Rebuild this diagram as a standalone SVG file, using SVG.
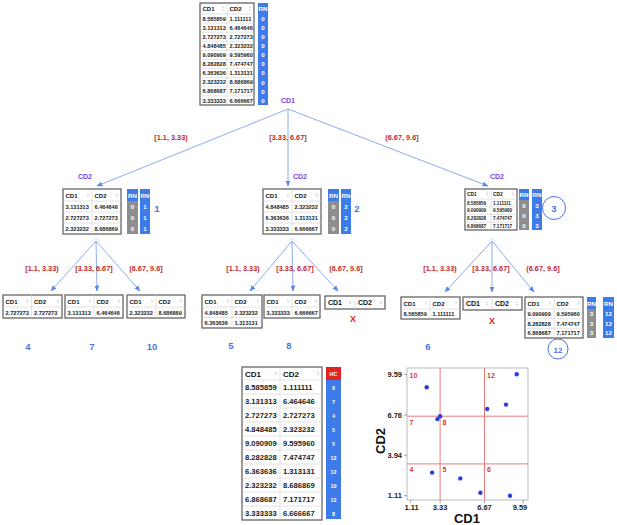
<svg xmlns="http://www.w3.org/2000/svg" width="617" height="525" viewBox="0 0 617 525">
<style>
text{font-family:"Liberation Sans",Arial,sans-serif}
.tb{fill:#fff;stroke:#666;stroke-width:1.3}
.cl{stroke:#d0d0d0;stroke-width:0.6}
.h{font-size:6px;font-weight:bold;fill:#111}
.v{font-size:5.6px;font-weight:bold;fill:#222}
.hs{font-size:4.8px;font-weight:bold;fill:#111}
.vs{font-size:4.6px;font-weight:bold;fill:#222}
.hl{font-size:7px;font-weight:bold;fill:#111}
.bh{font-size:8px;font-weight:bold;fill:#111}
.bv{font-size:7.6px;font-weight:bold;fill:#222}
.rb{fill:#3d7be8}
.rg{fill:#8e8e8e}
.rr{fill:#e02424}
.w{font-size:6.2px;font-weight:bold;fill:#fff;text-anchor:middle}
.ws{font-size:5.4px;font-weight:bold;fill:#fff;text-anchor:middle}
.cn{stroke:#7fa3ef;stroke-width:0.9;fill:none;marker-end:url(#ah)}
.el{font-size:7.3px;font-weight:bold;fill:#c0282d;text-anchor:middle}
.pl{font-size:7px;font-weight:bold;fill:#7a45e0;text-anchor:middle}
.bn{font-size:9.5px;font-weight:bold;fill:#4a74e6;text-anchor:middle}
.x{font-size:9px;font-weight:bold;fill:#e02020;text-anchor:middle}
.rl{stroke:#ec7a7a;stroke-width:1}
.rlab{font-size:7px;font-weight:bold;fill:#d63a3a}
.tk{font-size:7.5px;font-weight:bold;fill:#222}
.pt{fill:#2a3de6}
</style>
<defs>
<marker id="ah" markerUnits="userSpaceOnUse" markerWidth="6" markerHeight="6" refX="5.5" refY="3" orient="auto"><path d="M0,0.5 L6,3 L0,5.5 z" fill="#5b86ec"/></marker>
<path id="srt" d="M0,-0.6 l1,-1.4 l1,1.4z M0,0.6 l1,1.4 l1,-1.4z" fill="#c4c4c4"/>
</defs>

<g id="connectors">
<line class="cn" x1="288" y1="109" x2="97" y2="186"/>
<line class="cn" x1="288" y1="109" x2="288" y2="186"/>
<line class="cn" x1="288" y1="109" x2="488" y2="186"/>
<line class="cn" x1="96" y1="241" x2="51" y2="291"/>
<line class="cn" x1="96" y1="241" x2="97" y2="291"/>
<line class="cn" x1="96" y1="241" x2="140" y2="291"/>
<line class="cn" x1="292" y1="241" x2="250" y2="291"/>
<line class="cn" x1="292" y1="241" x2="293" y2="291"/>
<line class="cn" x1="292" y1="241" x2="338" y2="291"/>
<line class="cn" x1="492" y1="241" x2="445" y2="292"/>
<line class="cn" x1="492" y1="241" x2="492" y2="292"/>
<line class="cn" x1="492" y1="241" x2="534" y2="292"/>
<path d="M93,241 L96,238 L99,241 M289,241 L292,238 L295,241 M489,241 L492,238 L495,241" stroke="#c9d6f5" stroke-width="0.8" fill="none"/>
<text class="el" x="171" y="140">[1.1, 3.33)</text>
<text class="el" x="288" y="140">[3.33, 6.67]</text>
<text class="el" x="402" y="140">(6.67, 9.6]</text>
<text class="el" x="42" y="271">[1.1, 3.33)</text>
<text class="el" x="94" y="271">[3.33, 6.67]</text>
<text class="el" x="146" y="271">(6.67, 9.6]</text>
<text class="el" x="243" y="271">[1.1, 3.33)</text>
<text class="el" x="295" y="271">[3.33, 6.67]</text>
<text class="el" x="346" y="271">(6.67, 9.6]</text>
<text class="el" x="440" y="271">[1.1, 3.33)</text>
<text class="el" x="491" y="271">[3.33, 6.67]</text>
<text class="el" x="543" y="271">(6.67, 9.6]</text>
</g>

<g id="root">
<rect class="tb" x="200" y="3" width="54" height="102"/>
<path class="cl" d="M227,3V105 M200,14H254 M200,23.1H254 M200,32.2H254 M200,41.3H254 M200,50.4H254 M200,59.5H254 M200,68.6H254 M200,77.7H254 M200,86.8H254 M200,95.9H254"/>
<text class="h" x="202.5" y="11">CD1</text><text class="h" x="229.5" y="11">CD2</text>
<use href="#srt" x="222" y="8.5"/><use href="#srt" x="249" y="8.5"/>
<g class="v">
<text x="202.5" y="20.6">8.585859</text><text x="229.5" y="20.6">1.111111</text>
<text x="202.5" y="29.7">3.131313</text><text x="229.5" y="29.7">6.464646</text>
<text x="202.5" y="38.8">2.727273</text><text x="229.5" y="38.8">2.727273</text>
<text x="202.5" y="47.9">4.848485</text><text x="229.5" y="47.9">2.323232</text>
<text x="202.5" y="57">9.090909</text><text x="229.5" y="57">9.595960</text>
<text x="202.5" y="66.1">8.282828</text><text x="229.5" y="66.1">7.474747</text>
<text x="202.5" y="75.2">6.363636</text><text x="229.5" y="75.2">1.313131</text>
<text x="202.5" y="84.3">2.323232</text><text x="229.5" y="84.3">8.686869</text>
<text x="202.5" y="93.4">6.868687</text><text x="229.5" y="93.4">7.171717</text>
<text x="202.5" y="102.5">3.333333</text><text x="229.5" y="102.5">6.666667</text>
</g>
<rect class="rb" x="258" y="3" width="10" height="102"/>
<g class="w">
<text x="263" y="11">RN</text>
<text x="263" y="20.8">0</text><text x="263" y="29.9">0</text><text x="263" y="39">0</text><text x="263" y="48.1">0</text><text x="263" y="57.2">0</text><text x="263" y="66.3">0</text><text x="263" y="75.4">0</text><text x="263" y="84.5">0</text><text x="263" y="93.6">0</text><text x="263" y="102.7">0</text>
</g>
<text class="pl" x="288" y="103">CD1</text>
</g>

<g id="n1">
<text class="pl" x="85" y="179">CD2</text>
<rect class="tb" x="63" y="189" width="58" height="45"/>
<path class="cl" d="M92,189V234 M63,201H121 M63,212H121 M63,223H121"/>
<text class="h" x="65.5" y="197.5">CD1</text><text class="h" x="94.5" y="197.5">CD2</text>
<use href="#srt" x="87" y="195"/><use href="#srt" x="116" y="195"/>
<g class="v">
<text x="65.5" y="208.8">3.131313</text><text x="94.5" y="208.8">6.464646</text>
<text x="65.5" y="219.8">2.727273</text><text x="94.5" y="219.8">2.727273</text>
<text x="65.5" y="230.8">2.323232</text><text x="94.5" y="230.8">8.686869</text>
</g>
<rect class="rg" x="127" y="189" width="11" height="45"/><rect class="rb" x="127" y="189" width="11" height="12"/>
<rect class="rb" x="140" y="189" width="10" height="45"/>
<g class="w">
<text x="132.5" y="197.5">RN</text><text x="132.5" y="209">0</text><text x="132.5" y="220">0</text><text x="132.5" y="231">0</text>
<text x="145" y="197.5">RN</text><text x="145" y="209">1</text><text x="145" y="220">1</text><text x="145" y="231">1</text>
</g>
<text class="bn" x="157" y="212">1</text>
</g>

<g id="n2">
<text class="pl" x="300" y="179">CD2</text>
<rect class="tb" x="263" y="189" width="58" height="45"/>
<path class="cl" d="M292,189V234 M263,201H321 M263,212H321 M263,223H321"/>
<text class="h" x="265.5" y="197.5">CD1</text><text class="h" x="294.5" y="197.5">CD2</text>
<use href="#srt" x="287" y="195"/><use href="#srt" x="316" y="195"/>
<g class="v">
<text x="265.5" y="208.8">4.848485</text><text x="294.5" y="208.8">2.323232</text>
<text x="265.5" y="219.8">6.363636</text><text x="294.5" y="219.8">1.313131</text>
<text x="265.5" y="230.8">3.333333</text><text x="294.5" y="230.8">6.666667</text>
</g>
<rect class="rg" x="328" y="189" width="11" height="45"/><rect class="rb" x="328" y="189" width="11" height="12"/>
<rect class="rb" x="341" y="189" width="10" height="45"/>
<g class="w">
<text x="333.5" y="197.5">RN</text><text x="333.5" y="209">0</text><text x="333.5" y="220">0</text><text x="333.5" y="231">0</text>
<text x="346" y="197.5">RN</text><text x="346" y="209">2</text><text x="346" y="220">2</text><text x="346" y="231">2</text>
</g>
<text class="bn" x="357" y="212">2</text>
</g>

<g id="n3">
<text class="pl" x="497" y="179">CD2</text>
<rect class="tb" x="465" y="189" width="52" height="41"/>
<path class="cl" d="M491,189V230 M465,199H517 M465,206.75H517 M465,214.5H517 M465,222.25H517"/>
<text class="hs" x="467" y="196">CD1</text><text class="hs" x="493" y="196">CD2</text>
<use href="#srt" x="486" y="194"/><use href="#srt" x="512" y="194"/>
<g class="vs">
<text x="467" y="204.5">8.585859</text><text x="493" y="204.5">1.111111</text>
<text x="467" y="212.2">9.090909</text><text x="493" y="212.2">9.595960</text>
<text x="467" y="220">8.282828</text><text x="493" y="220">7.474747</text>
<text x="467" y="227.7">6.868687</text><text x="493" y="227.7">7.171717</text>
</g>
<rect class="rg" x="519" y="189" width="10" height="41"/><rect class="rb" x="519" y="189" width="10" height="11"/>
<rect class="rb" x="532" y="189" width="10" height="41"/>
<g class="w">
<text x="524" y="197">RN</text><text x="524" y="208">0</text><text x="524" y="218">0</text><text x="524" y="228">0</text>
<text x="537" y="197">RN</text><text x="537" y="208">3</text><text x="537" y="218">3</text><text x="537" y="228">3</text>
</g>
<circle cx="554" cy="208" r="11.5" fill="none" stroke="#4a74e6" stroke-width="1"/>
<text class="bn" x="554" y="211.5">3</text>
</g>

<g id="n4">
<rect class="tb" x="3" y="295" width="59" height="23"/>
<path class="cl" d="M31.5,295V318 M3,307H62"/>
<text class="h" x="5.5" y="303.5">CD1</text><text class="h" x="34" y="303.5">CD2</text>
<use href="#srt" x="26" y="301"/><use href="#srt" x="57" y="301"/>
<text class="v" x="5.5" y="314.8">2.727273</text><text class="v" x="34" y="314.8">2.727273</text>
<text class="bn" x="28" y="350">4</text>
</g>
<g id="n7">
<rect class="tb" x="65" y="295" width="58" height="23"/>
<path class="cl" d="M94,295V318 M65,307H123"/>
<text class="h" x="67.5" y="303.5">CD1</text><text class="h" x="96.5" y="303.5">CD2</text>
<use href="#srt" x="89" y="301"/><use href="#srt" x="118" y="301"/>
<text class="v" x="67.5" y="314.8">3.131313</text><text class="v" x="96.5" y="314.8">6.464646</text>
<text class="bn" x="92" y="350">7</text>
</g>
<g id="n10">
<rect class="tb" x="127" y="295" width="58" height="23"/>
<path class="cl" d="M156,295V318 M127,307H185"/>
<text class="h" x="129.5" y="303.5">CD1</text><text class="h" x="158.5" y="303.5">CD2</text>
<use href="#srt" x="151" y="301"/><use href="#srt" x="180" y="301"/>
<text class="v" x="129.5" y="314.8">2.323232</text><text class="v" x="158.5" y="314.8">8.686869</text>
<text class="bn" x="152" y="350">10</text>
</g>

<g id="n5">
<rect class="tb" x="202" y="295" width="60" height="33"/>
<path class="cl" d="M232,295V328 M202,307H262 M202,317.5H262"/>
<text class="h" x="204.5" y="303.5">CD1</text><text class="h" x="234.5" y="303.5">CD2</text>
<use href="#srt" x="227" y="301"/><use href="#srt" x="257" y="301"/>
<text class="v" x="204.5" y="314.5">4.848485</text><text class="v" x="234.5" y="314.5">2.323232</text>
<text class="v" x="204.5" y="325">6.363636</text><text class="v" x="234.5" y="325">1.313131</text>
<text class="bn" x="231" y="349">5</text>
</g>
<g id="n8">
<rect class="tb" x="264" y="295" width="56" height="23"/>
<path class="cl" d="M292,295V318 M264,307H320"/>
<text class="h" x="266.5" y="303.5">CD1</text><text class="h" x="294.5" y="303.5">CD2</text>
<use href="#srt" x="287" y="301"/><use href="#srt" x="315" y="301"/>
<text class="v" x="266.5" y="314.8">3.333333</text><text class="v" x="294.5" y="314.8">6.666667</text>
<text class="bn" x="289" y="349">8</text>
</g>
<g id="n9">
<rect class="tb" x="325" y="296" width="60" height="13"/>
<path class="cl" d="M355,296V309"/>
<text class="hl" x="328" y="305">CD1</text><text class="hl" x="358" y="305">CD2</text>
<use href="#srt" x="349" y="302.5"/><use href="#srt" x="380" y="302.5"/>
<text class="x" x="353" y="322">X</text>
</g>

<g id="n6">
<rect class="tb" x="401" y="297" width="59" height="22"/>
<path class="cl" d="M430,297V319 M401,309H460"/>
<text class="h" x="403.5" y="305.5">CD1</text><text class="h" x="432.5" y="305.5">CD2</text>
<use href="#srt" x="425" y="303"/><use href="#srt" x="455" y="303"/>
<text class="v" x="403.5" y="316.3">8.585859</text><text class="v" x="432.5" y="316.3">1.111111</text>
<text class="bn" x="428" y="350">6</text>
</g>
<g id="n11">
<rect class="tb" x="463" y="297" width="59" height="13"/>
<path class="cl" d="M492,297V310"/>
<text class="hl" x="466" y="306">CD1</text><text class="hl" x="495" y="306">CD2</text>
<use href="#srt" x="486" y="303.5"/><use href="#srt" x="516" y="303.5"/>
<text class="x" x="492" y="324">X</text>
</g>
<g id="n12">
<rect class="tb" x="525" y="297" width="58" height="41"/>
<path class="cl" d="M554,297V338 M525,309H583 M525,318.7H583 M525,328.4H583"/>
<text class="h" x="527.5" y="305.5">CD1</text><text class="h" x="556.5" y="305.5">CD2</text>
<use href="#srt" x="549" y="303"/><use href="#srt" x="578" y="303"/>
<g class="v">
<text x="527.5" y="316">9.090909</text><text x="556.5" y="316">9.595960</text>
<text x="527.5" y="325.7">8.282828</text><text x="556.5" y="325.7">7.474747</text>
<text x="527.5" y="335.4">6.868687</text><text x="556.5" y="335.4">7.171717</text>
</g>
<rect class="rg" x="587" y="297" width="9" height="41"/><rect class="rb" x="587" y="297" width="9" height="12"/>
<rect class="rb" x="603" y="297" width="11" height="41"/>
<g class="w">
<text x="591.5" y="305.5">RN</text><text x="591.5" y="316">3</text><text x="591.5" y="325.7">3</text><text x="591.5" y="335.4">3</text>
<text x="608.5" y="305.5">RN</text><text x="608.5" y="316">12</text><text x="608.5" y="325.7">12</text><text x="608.5" y="335.4">12</text>
</g>
<circle cx="558" cy="349" r="10" fill="none" stroke="#4a74e6" stroke-width="1"/>
<text class="bn" x="558" y="352.5" style="font-size:8px">12</text>
</g>

<g id="result-table">
<rect class="tb" x="242" y="367" width="80" height="153"/>
<path class="cl" d="M280,367V520 M242,380H322 M242,394H322 M242,408H322 M242,422H322 M242,436H322 M242,450H322 M242,464H322 M242,478H322 M242,492H322 M242,506H322"/>
<text class="bh" x="245" y="376.5">CD1</text><text class="bh" x="283" y="376.5">CD2</text>
<use href="#srt" x="275" y="373.5"/><use href="#srt" x="317" y="373.5"/>
<g class="bv">
<text x="245" y="390">8.585859</text><text x="283" y="390">1.111111</text>
<text x="245" y="404">3.131313</text><text x="283" y="404">6.464646</text>
<text x="245" y="418">2.727273</text><text x="283" y="418">2.727273</text>
<text x="245" y="432">4.848485</text><text x="283" y="432">2.323232</text>
<text x="245" y="446">9.090909</text><text x="283" y="446">9.595960</text>
<text x="245" y="460">8.282828</text><text x="283" y="460">7.474747</text>
<text x="245" y="474">6.363636</text><text x="283" y="474">1.313131</text>
<text x="245" y="488">2.323232</text><text x="283" y="488">8.686869</text>
<text x="245" y="502">6.868687</text><text x="283" y="502">7.171717</text>
<text x="245" y="516">3.333333</text><text x="283" y="516">6.666667</text>
</g>
<rect class="rr" x="326" y="367" width="15" height="13"/>
<rect class="rb" x="326" y="380" width="15" height="139"/>
<g class="ws">
<text x="333.5" y="376">HC</text>
<text x="333.5" y="389.8">6</text><text x="333.5" y="403.8">7</text><text x="333.5" y="417.8">4</text><text x="333.5" y="431.8">5</text><text x="333.5" y="445.8">5</text><text x="333.5" y="459.8">12</text><text x="333.5" y="473.8">12</text><text x="333.5" y="487.8">10</text><text x="333.5" y="501.8">12</text><text x="333.5" y="515.8">8</text>
</g>
</g>

<g id="scatter">
<rect x="407" y="368" width="121" height="132" fill="#fff" stroke="#aaa" stroke-width="0.8"/>
<path d="M404,374.4H407 M404,414.9H407 M404,455.2H407 M404,495.7H407 M410.6,500V503 M440.1,500V503 M484.5,500V503 M523.3,500V503" stroke="#888" stroke-width="0.8"/>
<path class="rl" d="M440.1,368V500 M484.5,368V500 M407,416.2H528 M407,463.9H528"/>
<g class="rlab">
<text x="409.5" y="378">10</text><text x="487" y="378">12</text>
<text x="409.5" y="425">7</text><text x="442.5" y="425">8</text>
<text x="409.5" y="472">4</text><text x="442.5" y="472">5</text><text x="487" y="472">6</text>
</g>
<g class="pt">
<circle cx="510" cy="495.7" r="2.2"/>
<circle cx="437.4" cy="419.1" r="2.2"/>
<circle cx="432.1" cy="472.6" r="2.2"/>
<circle cx="460.3" cy="478.4" r="2.2"/>
<circle cx="516.7" cy="374.3" r="2.2"/>
<circle cx="506" cy="404.6" r="2.2"/>
<circle cx="480.4" cy="492.8" r="2.2"/>
<circle cx="426.7" cy="387.3" r="2.2"/>
<circle cx="487.2" cy="409" r="2.2"/>
<circle cx="440.1" cy="416.2" r="2.2"/>
</g>
<g class="tk" text-anchor="end">
<text x="402" y="377">9.59</text><text x="402" y="417.5">6.76</text><text x="402" y="457.8">3.94</text><text x="402" y="498.3">1.11</text>
</g>
<g class="tk" text-anchor="middle">
<text x="411.5" y="510">1.11</text><text x="440.1" y="510">3.33</text><text x="484.5" y="510">6.67</text><text x="520" y="510">9.59</text>
</g>
<text x="467" y="523" text-anchor="middle" style="font-size:13px;font-weight:bold;fill:#111">CD1</text>
<text transform="translate(385,441) rotate(-90)" text-anchor="middle" style="font-size:13px;font-weight:bold;fill:#111">CD2</text>
</g>
</svg>
